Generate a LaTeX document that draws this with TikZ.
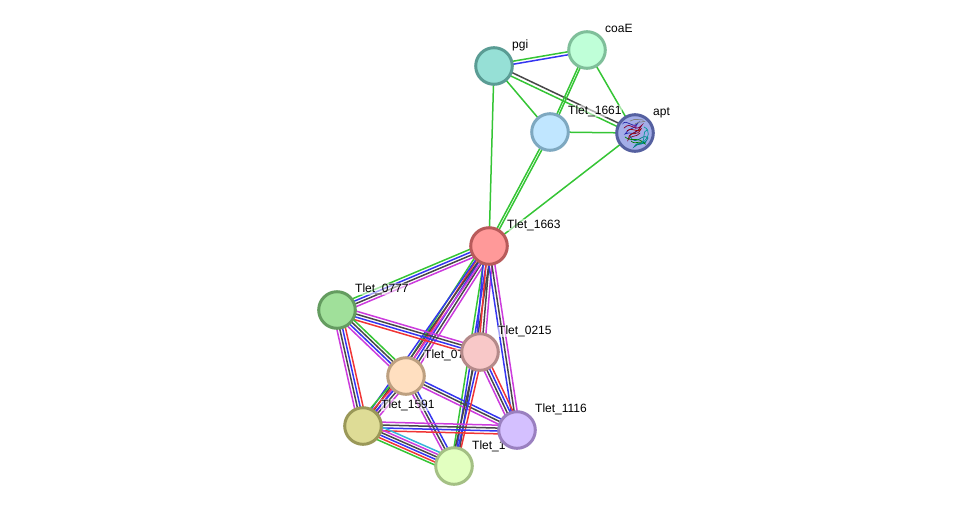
\documentclass[tikz,border=0pt]{standalone}
\usepackage{fontspec}
\setmainfont{Liberation Sans}
\usetikzlibrary{calc}
\pgfdeclarelayer{edges}
\pgfdeclarelayer{labels}
\pgfsetlayers{edges,labels,main}

\definecolor{lgreen}{HTML}{35C535}
\definecolor{lblue}{HTML}{3535F0}
\definecolor{lblack}{HTML}{484848}
\definecolor{lred}{HTML}{F03535}
\definecolor{lmag}{HTML}{CC3BDD}
\definecolor{lcyan}{HTML}{35B5D8}

% Fill and rim colours of the proteins
\definecolor{fA}{HTML}{96E0D6}\definecolor{rA}{HTML}{5A9C94}
\definecolor{fB}{HTML}{BFFFD8}\definecolor{rB}{HTML}{7FBF9A}
\definecolor{fC}{HTML}{C0E6FF}\definecolor{rC}{HTML}{7EA8C0}
\definecolor{fD}{HTML}{A3ADE8}\definecolor{rD}{HTML}{5560A0}
\definecolor{fE}{HTML}{FF9999}\definecolor{rE}{HTML}{B85A5A}
\definecolor{fF}{HTML}{A0E09A}\definecolor{rF}{HTML}{649C60}
\definecolor{fG}{HTML}{F8C8C8}\definecolor{rG}{HTML}{B48A8A}
\definecolor{fH}{HTML}{FFDFC0}\definecolor{rH}{HTML}{BDA080}
\definecolor{fI}{HTML}{DEDC96}\definecolor{rI}{HTML}{9A9858}
\definecolor{fJ}{HTML}{D4C0FF}\definecolor{rJ}{HTML}{9A80C0}
\definecolor{fK}{HTML}{E2FFC0}\definecolor{rK}{HTML}{A4C084}

\tikzset{
  protein/.style 2 args={circle,draw=#2,fill=#1,line width=3pt,minimum size=36.6pt,inner sep=0pt},
  edgeline/.style={line width=1.5pt},
  tag/.style={anchor=base west,inner sep=0.4pt,fill=white,fill opacity=.55,text opacity=1,font=\fontsize{12}{12}\selectfont},
  chain/.style={line width=.7pt,line cap=round}
}

% Parallel strands between two proteins; colours run left to right along a->b
\newcommand{\bundle}[4][2.9]{%
  \foreach \cc [count=\ii] in {#4} {\xdef\nstrands{\ii}}
  \foreach \cc [count=\ii] in {#4} {
    \pgfmathsetmacro{\off}{((\nstrands+1)/2-\ii)*#1}
    \draw[edgeline,draw=\cc] ($(#2)!\off pt!90:(#3)$) -- ($(#3)!\off pt!-90:(#2)$);
  }
}

\begin{document}
\begin{tikzpicture}[x=1pt,y=-1pt]
\useasboundingbox (0,0) rectangle (976,512);

% Proteins
\node[protein={fA}{rA}] (pgi) at (494,66) {};
\node[protein={fB}{rB}] (coaE) at (587,50) {};
\node[protein={fC}{rC}] (t1661) at (550,132) {};
\node[protein={fD}{rD}] (apt) at (635,133) {};
\node[protein={fE}{rE}] (t1663) at (489,246) {};
\node[protein={fF}{rF}] (t0777) at (337,310) {};
\node[protein={fG}{rG}] (t0215) at (480,352) {};
\node[protein={fH}{rH}] (t07) at (406,376) {};
\node[protein={fI}{rI}] (t1591) at (363,426) {};
\node[protein={fJ}{rJ}] (t1116) at (517,430) {};
\node[protein={fK}{rK}] (t1x) at (454,466) {};

% Folded-chain picture inside apt
\begin{scope}
  \clip (apt) circle (15.5pt);
  \draw[chain,draw=lblue!70!black] (622,124) .. controls (628,118) and (632,130) .. (638,123) .. controls (634,130) and (628,128) .. (625,134) .. controls (630,131) and (633,136) .. (637,131);
  \draw[chain,draw=purple!70!black] (624,128) .. controls (632,120) and (634,134) .. (642,125) .. controls (636,136) and (630,130) .. (628,140) .. controls (632,134) and (636,138) .. (640,133);
  \draw[chain,draw=teal] (630,136) .. controls (636,148) and (642,132) .. (648,138) .. controls (644,147) and (638,142) .. (634,147) .. controls (638,140) and (642,146) .. (646,142);
  \draw[chain,draw=green!50!black] (625,137) .. controls (632,143) and (638,135) .. (646,145) .. controls (642,138) and (636,146) .. (631,141);
  \draw[chain,draw=teal!80!cyan] (644,127) .. controls (651,130) and (649,138) .. (642,143) .. controls (646,136) and (642,132) .. (647,130);
  \draw[chain,draw=gray] (630,121) .. controls (636,117) and (642,122) .. (648,119) .. controls (644,124) and (640,120) .. (635,124);
  \draw[chain,draw=red!60!black] (627,131) .. controls (632,126) and (637,134) .. (641,129) .. controls (637,137) and (632,131) .. (629,136);
  \draw[chain,draw=lmag!70!black] (632,126) .. controls (636,124) and (638,128) .. (635,129);
\end{scope}

\begin{pgfonlayer}{edges}
  % Upper cluster
  \bundle[3]{pgi}{coaE}{lgreen,lblue}
  \bundle[3.6]{pgi}{apt}{lblack,lgreen}
  \bundle{pgi}{t1661}{lgreen}
  \bundle{pgi}{t1663}{lgreen}
  \bundle[2.2]{coaE}{t1661}{lgreen,lgreen}
  \bundle{coaE}{apt}{lgreen}
  \bundle{t1661}{apt}{lgreen}
  \bundle[2.4]{t1661}{t1663}{lgreen,lgreen}
  \bundle{apt}{t1663}{lgreen}
  % Lower cluster
  \bundle{t0777}{t1663}{lgreen,lblue,lblack,lmag}
  \bundle{t1663}{t07}{lmag,lblack,lblue,lred,lgreen}
  \bundle{t1663}{t1591}{lmag,lblack,lblue}
  \bundle{t1663}{t1x}{lblack,lblue,lgreen}
  \bundle{t1663}{t0215}{lmag,lblack,lred,lblue}
  \bundle[3]{t1663}{t1116}{lmag,lblack,lblue}
  \bundle{t0777}{t0215}{lmag,lblack,lblue,lred}
  \bundle{t0777}{t07}{lgreen,lblack,lblue,lmag}
  \bundle{t0777}{t1591}{lred,lblue,lblack,lmag}
  \bundle{t07}{t1591}{lmag,lblack,lblue,lred,lgreen}
  \bundle{t07}{t1116}{lblue,lblack,lmag}
  \bundle{t07}{t1x}{lblue,lblack,lmag}
  \bundle{t0215}{t1116}{lred,lblue,lblack,lmag}
  \bundle{t0215}{t1x}{lred,lblue,lblack}
  \bundle{t1591}{t1116}{lmag,lblack,lblue,lred}
  \bundle[2.7]{t1591}{t1x}{lcyan,lmag,lblack,lblue,lred,lgreen}
\end{pgfonlayer}

\begin{pgfonlayer}{labels}
  \node[tag] (lpgi) at (511.6,48) {pgi};
  \node[tag] (lcoaE) at (604.6,32) {coaE};
  \node[tag] (l1661) at (567.6,114) {Tlet\_1661};
  \node[tag] (lapt) at (652.6,115) {apt};
  \node[tag] (l1663) at (506.6,228) {Tlet\_1663};
  \node[tag] (l0777) at (354.6,292) {Tlet\_0777};
  \node[tag] (l0215) at (497.6,334) {Tlet\_0215};
  \node[tag] (l07) at (423.6,358) {Tlet\_07};
  \node[tag] (l1591) at (380.6,408) {Tlet\_1591};
  \node[tag] (l1116) at (534.6,412) {Tlet\_1116};
  \node[tag] (l1x) at (471.6,449) {Tlet\_1};
\end{pgfonlayer}
\end{tikzpicture}
\end{document}
